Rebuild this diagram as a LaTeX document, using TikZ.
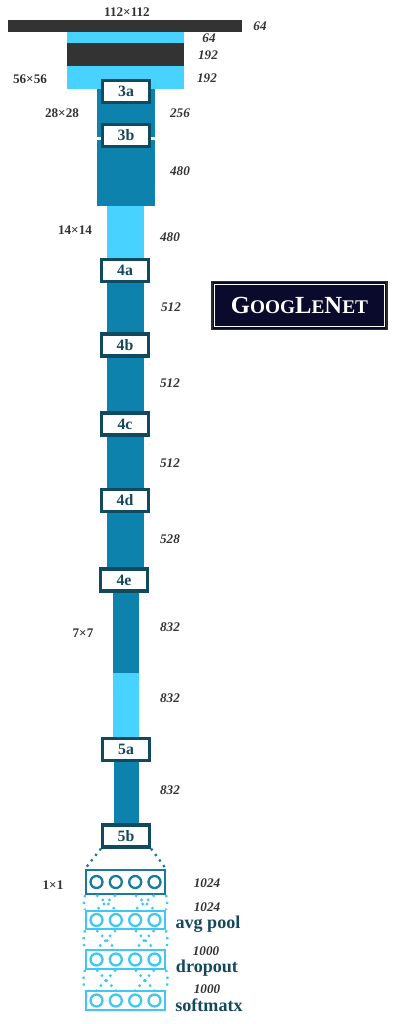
\documentclass[tikz,border=0pt]{standalone}
\usepackage{fontspec}
\setmainfont{Liberation Serif}
\usetikzlibrary{graphs}
\usetikzlibrary{quotes}

\definecolor{netteal}{RGB}{12,130,172}
\definecolor{netsky}{RGB}{72,210,255}
\definecolor{netframe}{RGB}{15,74,94}
\definecolor{netink}{RGB}{22,72,92}
\definecolor{netdark}{RGB}{51,51,51}
\definecolor{netnavy}{RGB}{10,10,44}
\definecolor{netline}{RGB}{24,122,160}
\definecolor{netlight}{RGB}{64,200,242}

\newcommand{\netsc}[1]{{\fontsize{11}{11}\selectfont #1}}

\tikzset{
  block/.style={draw=netframe, line width=1.8pt, fill=white, inner sep=0pt,
    minimum width=0.94cm, minimum height=0.44cm,
    font=\fontsize{9}{9}\selectfont\bfseries, text=netink},
  size/.style={font=\fontsize{7.5}{8}\selectfont\bfseries, text=netdark},
  depth/.style={font=\fontsize{7.5}{8}\selectfont\bfseries\itshape, text=netdark},
  opname/.style={font=\fontsize{10.3}{10}\selectfont\bfseries, text=netink},
  layer/.style={draw=#1, line width=1.2pt, fill=white, inner sep=0pt,
    minimum width=1.58cm, minimum height=0.37cm},
  unit/.style={draw=#1, line width=1.3pt, circle, inner sep=0pt, minimum size=0.24cm},
  link/.style={draw=#1, line width=1.3pt, dash pattern=on 1.3pt off 2.6pt},
  title/.style={fill=netnavy, draw=netdark!80!netnavy, line width=1pt,
    minimum width=3.5cm, minimum height=0.96cm, text=white,
    font=\fontsize{14}{14}\selectfont\bfseries}
}

\begin{document}
\begin{tikzpicture}[x=0.02cm, y=-0.02cm]
        \useasboundingbox (0,0) rectangle (409,1024);

        % stem
        \fill[netdark] (8,20) rectangle (242,32);
        \fill[netsky]  (67,32) rectangle (184,89);
        \fill[netdark] (67,43) rectangle (184,66);

        % columns
        \fill[netteal] (97,89)   rectangle (155,137);
        \fill[netteal] (97,140)  rectangle (155,206);
        \fill[netsky]  (107,206) rectangle (144,262);
        \fill[netteal] (107,262) rectangle (144,580);
        \fill[netteal] (113,580) rectangle (139,673);
        \fill[netsky]  (113,673) rectangle (139,749);
        \fill[netteal] (114,749) rectangle (139,836);

        % inception blocks
        \node[block] (b3a) at (126,91.5)  {3a};
        \node[block] (b3b) at (126,135.5) {3b};
        \node[block] (b4a) at (125,270.5) {4a};
        \node[block] (b4b) at (125,345)   {4b};
        \node[block] (b4c) at (125,424)   {4c};
        \node[block] (b4d) at (125,500.5) {4d};
        \node[block] (b4e) at (124,580)   {4e};
        \node[block] (b5a) at (126,749.5) {5a};
        \node[block] (b5b) at (126,836)   {5b};

        % feature map sizes
        \node[size] (s112) at (127,12)  {112×112};
        \node[size] (s56)  at (30,79)   {56×56};
        \node[size] (s28)  at (62,113)  {28×28};
        \node[size] (s14)  at (75,230)  {14×14};
        \node[size] (s7)   at (83,633)  {7×7};
        \node[size] (s1)   at (53,885)  {1×1};

        % depths
        \node[depth] (d64a)  at (260,26)  {64};
        \node[depth] (d64b)  at (209,38)  {64};
        \node[depth] (d192a) at (208,55)  {192};
        \node[depth] (d192b) at (207,78)  {192};
        \node[depth] (d256)  at (180,113) {256};
        \node[depth] (d480a) at (180,171) {480};
        \node[depth] (d480b) at (170,237) {480};
        \node[depth] (d512a) at (171,307) {512};
        \node[depth] (d512b) at (170,383) {512};
        \node[depth] (d512c) at (170,463) {512};
        \node[depth] (d528)  at (170,539) {528};
        \node[depth] (d832a) at (170,627) {832};
        \node[depth] (d832b) at (170,698) {832};
        \node[depth] (d832c) at (170,790) {832};

        % title
        \node[title] (title) at (299.5,305.5) {G\netsc{OOG}L\netsc{E}N\netsc{ET}};
        \draw[white, line width=0.6pt] ([xshift=2pt,yshift=-2pt]title.north west)
            rectangle ([xshift=-2pt,yshift=2pt]title.south east);

        % head layers
        \node[layer=netline, minimum height=0.48cm] (l1) at (125.5,882) {};
        \node[layer=netlight] (l2) at (125.5,920)   {};
        \node[layer=netlight] (l3) at (125.5,959.5) {};
        \node[layer=netlight] (l4) at (125.5,1000.5) {};

        \foreach \k/\c in {1/netline,2/netlight,3/netlight,4/netlight}
          \foreach \i/\dx in {1/-29,2/-9.7,3/9.7,4/29}
            \node[unit=\c] (l\k u\i) at ([xshift=\dx*0.02cm]l\k.center) {};

        \node[depth] (n1) at (207,883) {1024};
        \node[depth] (n2) at (207,907) {1024};
        \node[opname] (o2) at (208,924) {avg pool};
        \node[depth] (n3) at (206,951) {1000};
        \node[opname] (o3) at (207,968) {dropout};
        \node[depth] (n4) at (207,989) {1000};
        \node[opname] (o4) at (209,1005) {softmatx};

        % links
        \draw[link=netline] (b5b.south west) -- (l1.north west);
        \draw[link=netline] (b5b.south east) -- (l1.north east);

        \foreach \k/\m in {1/2,2/3,3/4} {
          \draw[link=netlight] (l\k.south west) to[bend right=15] (l\m.north west);
          \draw[link=netlight] (l\k.south east) to[bend left=15] (l\m.north east);
          \foreach \i/\j in {1/2,2/1,3/4,4/3}
            \draw[link=netlight] (l\k.south -| l\k u\i) -- (l\m.north -| l\m u\j);
        }
    \end{tikzpicture}
\end{document}
